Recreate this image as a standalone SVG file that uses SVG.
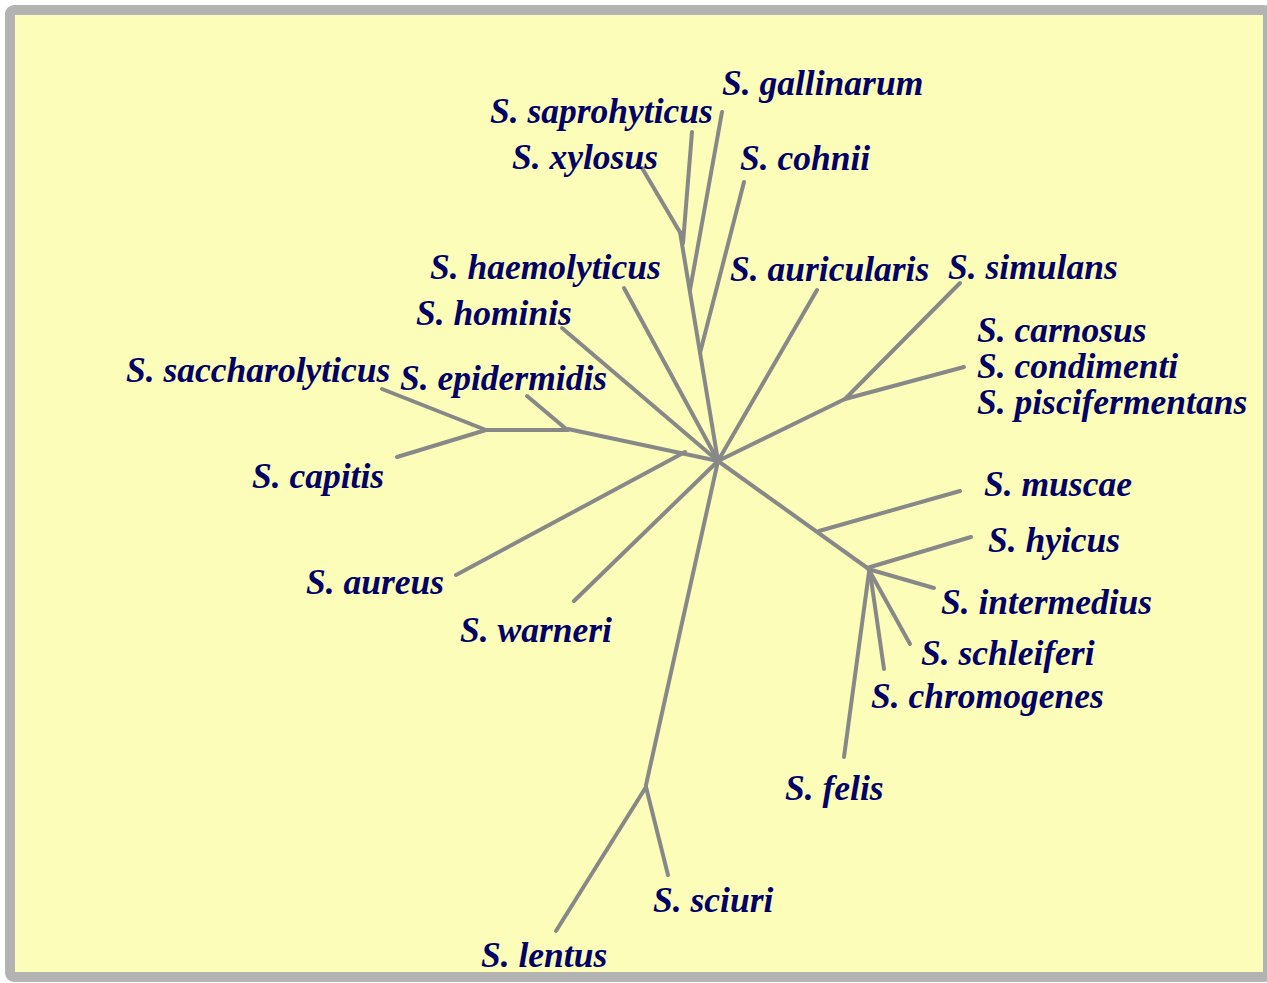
<svg xmlns="http://www.w3.org/2000/svg" width="1267" height="983" viewBox="0 0 1267 983">
<style>
.t{font-family:"Liberation Serif","Times New Roman",serif;font-size:35.5px;font-weight:bold;font-style:italic;fill:#000066}
.e{stroke:#888888;stroke-width:4;stroke-linecap:round;fill:none}
</style>
<rect x="0" y="0" width="1267" height="983" fill="#ffffff"/>
<rect x="10" y="10" width="1258" height="967" rx="4" fill="#FDFDBA" stroke="#B3B3B3" stroke-width="10"/>
<g id="connectors">
<line class="e" x1="718" y1="461" x2="680" y2="232"/>
<line class="e" x1="642" y1="168" x2="681" y2="234"/>
<line class="e" x1="692" y1="132" x2="683" y2="243"/>
<line class="e" x1="722" y1="112" x2="690" y2="290"/>
<line class="e" x1="744" y1="182" x2="700" y2="353"/>
<line class="e" x1="624" y1="288" x2="718" y2="461"/>
<line class="e" x1="562" y1="328" x2="718" y2="461"/>
<line class="e" x1="817" y1="290" x2="718" y2="461"/>
<line class="e" x1="718" y1="461" x2="845" y2="399"/>
<line class="e" x1="960" y1="283" x2="845" y2="399"/>
<line class="e" x1="964" y1="367" x2="845" y2="399"/>
<line class="e" x1="718" y1="461" x2="568" y2="429"/>
<line class="e" x1="568" y1="430" x2="486" y2="430"/>
<line class="e" x1="527" y1="396" x2="565" y2="428"/>
<line class="e" x1="382" y1="389" x2="486" y2="430"/>
<line class="e" x1="397" y1="457" x2="486" y2="430"/>
<line class="e" x1="456" y1="575" x2="685" y2="452"/>
<line class="e" x1="574" y1="601" x2="718" y2="461"/>
<line class="e" x1="718" y1="461" x2="646" y2="785"/>
<line class="e" x1="556" y1="931" x2="646" y2="787"/>
<line class="e" x1="668" y1="875" x2="646" y2="787"/>
<line class="e" x1="718" y1="461" x2="866" y2="567"/>
<line class="e" x1="960" y1="491" x2="819" y2="531"/>
<line class="e" x1="971" y1="537" x2="867" y2="568"/>
<line class="e" x1="934" y1="588" x2="868" y2="569"/>
<line class="e" x1="910" y1="644" x2="869" y2="570"/>
<line class="e" x1="884" y1="669" x2="870" y2="572"/>
<line class="e" x1="844" y1="757" x2="869" y2="572"/>
</g>
<g id="n-gallinarum"><text class="t" x="722" y="95">S. gallinarum</text></g>
<g id="n-saprohyticus"><text class="t" x="490" y="123">S. saprohyticus</text></g>
<g id="n-xylosus"><text class="t" x="512" y="169">S. xylosus</text></g>
<g id="n-cohnii"><text class="t" x="740" y="170">S. cohnii</text></g>
<g id="n-haemolyticus"><text class="t" x="430" y="279">S. haemolyticus</text></g>
<g id="n-hominis"><text class="t" x="416" y="325">S. hominis</text></g>
<g id="n-auricularis"><text class="t" x="730" y="281">S. auricularis</text></g>
<g id="n-simulans"><text class="t" x="948" y="279">S. simulans</text></g>
<g id="n-carnosus"><text class="t" x="977" y="342">S. carnosus</text></g>
<g id="n-condimenti"><text class="t" x="977" y="378">S. condimenti</text></g>
<g id="n-piscifermentans"><text class="t" x="977" y="414">S. piscifermentans</text></g>
<g id="n-saccharolyticus"><text class="t" x="126" y="382">S. saccharolyticus</text></g>
<g id="n-epidermidis"><text class="t" x="400" y="390">S. epidermidis</text></g>
<g id="n-capitis"><text class="t" x="252" y="488">S. capitis</text></g>
<g id="n-aureus"><text class="t" x="306" y="594">S. aureus</text></g>
<g id="n-warneri"><text class="t" x="460" y="642">S. warneri</text></g>
<g id="n-muscae"><text class="t" x="984" y="496">S. muscae</text></g>
<g id="n-hyicus"><text class="t" x="988" y="552">S. hyicus</text></g>
<g id="n-intermedius"><text class="t" x="941" y="614">S. intermedius</text></g>
<g id="n-schleiferi"><text class="t" x="921" y="665">S. schleiferi</text></g>
<g id="n-chromogenes"><text class="t" x="871" y="708">S. chromogenes</text></g>
<g id="n-felis"><text class="t" x="785" y="800">S. felis</text></g>
<g id="n-sciuri"><text class="t" x="653" y="912">S. sciuri</text></g>
<g id="n-lentus"><text class="t" x="481" y="967">S. lentus</text></g>
</svg>
